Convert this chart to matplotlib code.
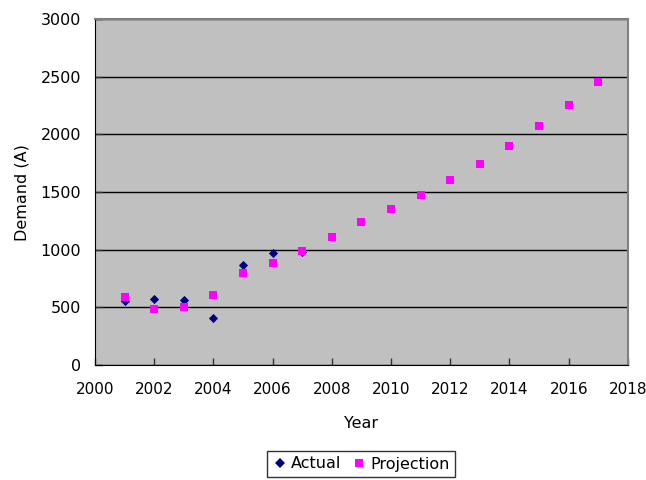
import matplotlib
matplotlib.use("Agg")
import matplotlib.pyplot as plt
from matplotlib.lines import Line2D

# measured demand
actual_years = [2001, 2002, 2003, 2004, 2005, 2006, 2007]
actual_demand = [552, 576, 567, 411, 870, 968, 980]

# projected demand
proj_years = list(range(2001, 2018))
proj_demand = [590, 488, 500, 610, 795, 882, 989, 1113, 1243, 1353,
               1471, 1604, 1746, 1896, 2072, 2257, 2454]

x_ticks = list(range(2000, 2019, 2))
y_ticks = list(range(0, 3001, 500))

plt.rcParams["font.family"] = ["DejaVu Sans"]

fig = plt.figure(figsize=(6.46, 4.8), dpi=100)
ax = fig.add_axes([0.147, 0.2396, 0.825, 0.7204])
ax.set_facecolor("#c0c0c0")

ax.scatter(actual_years, actual_demand, marker="D", s=22, color="#000080",
           linewidths=0, zorder=3)
ax.scatter(proj_years, proj_demand, marker="s", s=34, color="#ff00ff",
           linewidths=0, zorder=4)

ax.set_xlim(2000, 2018)
ax.set_ylim(0, 3000)
ax.set_xticks(x_ticks)
ax.set_yticks(y_ticks)
ax.yaxis.grid(True, color="black", linewidth=1.0)
ax.set_axisbelow(True)
ax.tick_params(direction="in", length=5, width=1, color="#333333",
               labelsize=11.5)
ax.tick_params(axis="x", pad=12, labelsize=11)
ax.tick_params(axis="y", pad=10)

for side in ("left", "bottom"):
    ax.spines[side].set_color("black")
for side in ("top", "right"):
    ax.spines[side].set_color("#808080")
    ax.spines[side].set_linewidth(1.5)

ax.set_xlabel("Year", fontsize=11.5, labelpad=14)
ax.set_ylabel("Demand (A)", fontsize=11.5, labelpad=8)

handles = [
    Line2D([], [], marker="D", linestyle="none", color="#000080",
           markersize=5, markeredgewidth=0),
    Line2D([], [], marker="s", linestyle="none", color="#ff00ff",
           markersize=6, markeredgewidth=0),
]
fig.legend(handles, ["Actual", "Projection"], loc="center",
           bbox_to_anchor=(361 / 646, 1 - 464 / 480), ncol=2,
           fontsize=11.5, frameon=True, fancybox=False, edgecolor="black",
           handletextpad=0.2, columnspacing=0.6, handlelength=1.0,
           borderpad=0.35, borderaxespad=0)

fig.savefig("out.png", dpi=100)
